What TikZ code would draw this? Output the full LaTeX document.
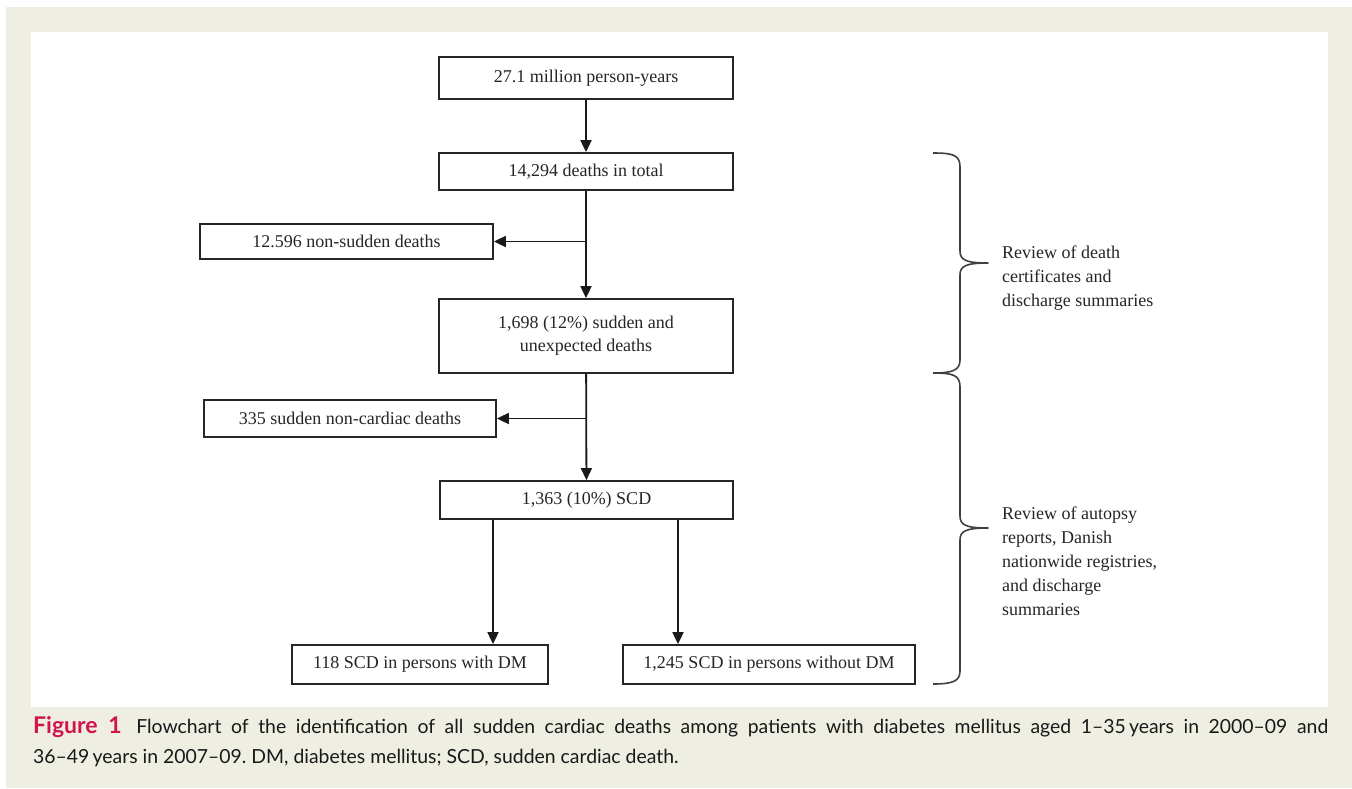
\documentclass[tikz,border=0pt]{standalone}
\usepackage{fontspec}
\setmainfont{Liberation Serif}
\newfontfamily\capfont[Ligatures=TeX]{Lato}
\usetikzlibrary{arrows.meta}
\definecolor{bgbeige}{HTML}{EFEEE3}
\definecolor{figred}{HTML}{D0144E}
\tikzset{
  box/.style={draw=black!85, line width=1.8pt, fill=white, inner sep=2pt, align=center,
    font=\fontsize{18}{23}\selectfont, text=black!85},
  flow/.style={draw=black!90, line width=1.8pt, -{Triangle[length=12pt,width=11pt]}},
  brace/.style={draw=black!75, line width=1.6pt, line join=round},
  note/.style={align=left, anchor=west, inner sep=0pt, font=\fontsize{18}{24}\selectfont, text=black!85}
}
\begin{document}
\frenchspacing
\begin{tikzpicture}[x=1pt,y=-1pt]
\useasboundingbox (0,0) rectangle (1352,788);
\fill[white] (0,0) rectangle (1352,788);
\fill[bgbeige] (6,7) rectangle (1352,788);
\fill[white] (31,32) rectangle (1328,707);

\node[box, minimum width=294pt, minimum height=42pt] (n1) at (586,78) {27.1 million person-years};
\node[box, minimum width=294pt, minimum height=37pt] (n2) at (586,171.5) {14,294 deaths in total};
\node[box, minimum width=293pt, minimum height=35pt] (n3) at (346.5,241.5) {12.596 non-sudden deaths};
\node[box, minimum width=294pt, minimum height=74pt] (n4) at (586,336) {1,698 (12\%) sudden and\\unexpected deaths};
\node[box, minimum width=292pt, minimum height=37pt] (n5) at (350,418.5) {335 sudden non-cardiac deaths};
\node[box, minimum width=293pt, minimum height=38pt] (n6) at (586.5,500) {1,363 (10\%) SCD};
\node[box, minimum width=256pt, minimum height=39pt] (n7) at (420,664.5) {118 SCD in persons with DM};
\node[box, minimum width=292pt, minimum height=39pt] (n8) at (769,664.5) {1,245 SCD in persons without DM};

\draw[flow] (n1) -- (n2);
\draw[flow] (n2) -- (n4);
\draw[flow] (n2.south |- n3.east) -- (n3.east);
\draw[flow] (n4) -- (n6);
\draw[flow] (n4.south |- n5.east) -- (n5.east);
\coordinate (b7) at (493,0);
\coordinate (b8) at (678,0);
\draw[flow] (b7 |- n6.south) -- (b7 |- n7.north);
\draw[flow] (b8 |- n6.south) -- (b8 |- n8.north);

% braces
\draw[brace] (933,153) .. controls (953,153) and (960,155) .. (960,167) -- (960,251)
  .. controls (960,260) and (966,263) .. (988,263)
  .. controls (966,263) and (960,266) .. (960,275) -- (960,360)
  .. controls (960,370) and (953,373) .. (933,373);
\draw[brace] (933,373) .. controls (953,373) and (960,375) .. (960,387) -- (960,516)
  .. controls (960,525) and (966,528) .. (988,528)
  .. controls (966,528) and (960,531) .. (960,540) -- (960,671)
  .. controls (960,681) and (953,684) .. (933,684);

\node[note] (t1) at (1002,278) {Review of death\\certificates and\\discharge summaries};
\node[note] (t2) at (1002,561) {Review of autopsy\\reports, Danish\\nationwide registries,\\and discharge\\summaries};

\node[anchor=north west, inner sep=0pt] (cap) at (33,716) {\parbox{1295pt}{\capfont\fontsize{19.4}{30.5}\selectfont\color{black!90}%
{\fontsize{23}{30.5}\selectfont\bfseries\color{figred}Figure 1}\hspace{0.75em}Flowchart of the identification of all sudden cardiac deaths among patients with diabetes mellitus aged 1–35\,years in 2000–09 and\linebreak 36–49\,years in 2007–09. DM, diabetes mellitus; SCD, sudden cardiac death.}};
\end{tikzpicture}
\end{document}
